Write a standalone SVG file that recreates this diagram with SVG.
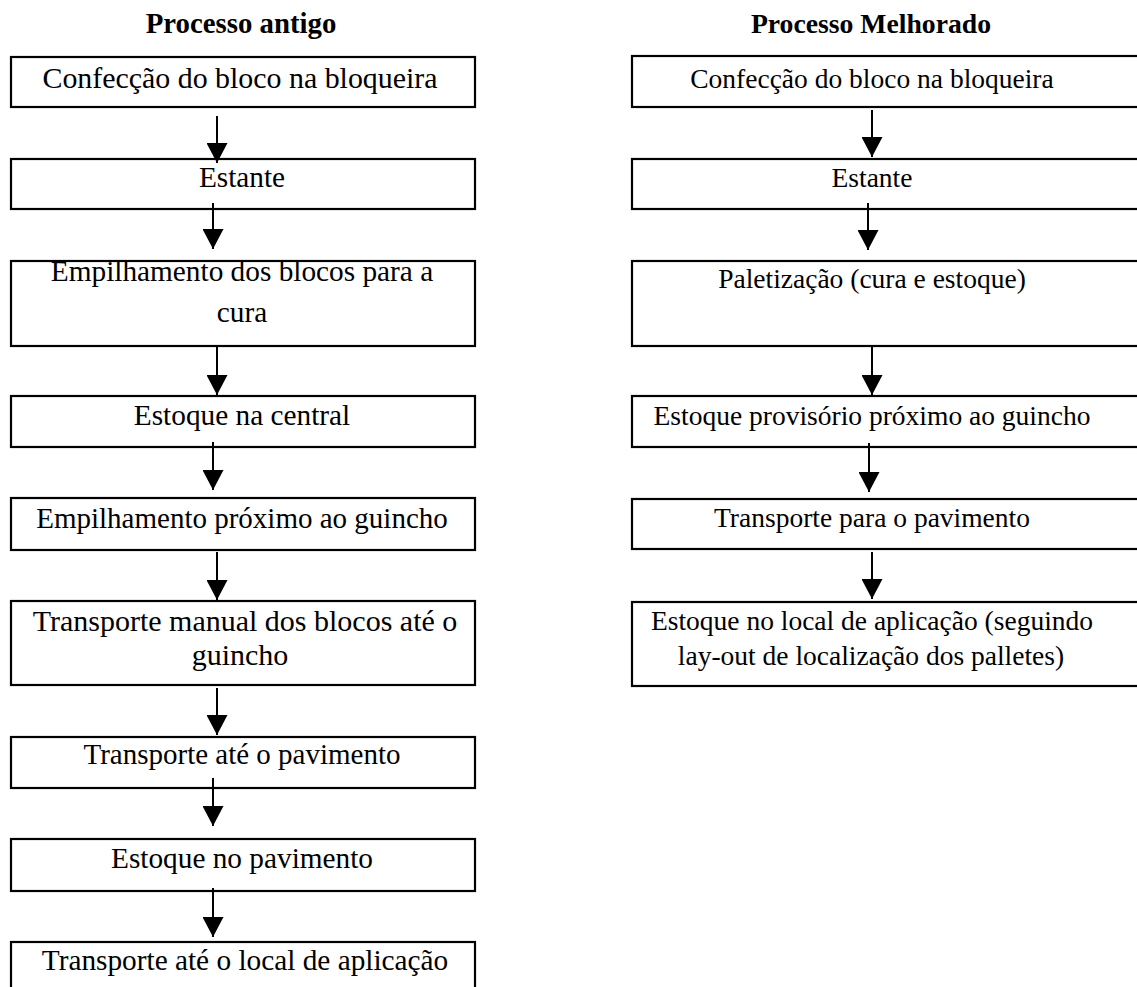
<svg xmlns="http://www.w3.org/2000/svg" width="1137" height="987" viewBox="0 0 1137 987">
  <style>
    .box { fill: #fff; stroke: #000; stroke-width: 2.2; }
    .t { font-family: "Liberation Serif", "Times New Roman", serif; font-size: 29.3px; fill: #000; text-anchor: middle; }
    .r { font-size: 27.5px; }
    .h { font-family: "Liberation Serif", "Times New Roman", serif; font-size: 28.8px; font-weight: bold; fill: #000; text-anchor: middle; }
    .c { stroke: #000; stroke-width: 2; fill: none; marker-end: url(#head); }
  </style>
  <defs>
    <marker id="head" viewBox="0 0 20 21" refX="20" refY="10.5" markerWidth="20" markerHeight="21" markerUnits="userSpaceOnUse" orient="auto">
      <path d="M0,0 L20,10.5 L0,21 Z" fill="#000"/>
    </marker>
  </defs>

  <rect width="1137" height="987" fill="#fff"/>

  <!-- column headings -->
  <text class="h" x="241" y="33">Processo antigo</text>
  <text class="h" x="871" y="33" style="font-size:27.7px">Processo Melhorado</text>

  <!-- old process -->
  <g id="a1"><rect class="box" x="11" y="57" width="464" height="50"/><text class="t" x="240" y="88" style="font-size:29.9px">Confecção do bloco na bloqueira</text></g>
  <g id="a2"><rect class="box" x="11" y="159" width="464" height="50"/><text class="t" x="242" y="187">Estante</text></g>
  <g id="a3"><rect class="box" x="11" y="261" width="464" height="85"/><text class="t" x="242" y="281">Empilhamento dos blocos para a</text><text class="t" x="242" y="322">cura</text></g>
  <g id="a4"><rect class="box" x="11" y="396" width="464" height="51"/><text class="t" x="242" y="425">Estoque na central</text></g>
  <g id="a5"><rect class="box" x="11" y="498" width="464" height="52"/><text class="t" x="242" y="528" style="font-size:29px">Empilhamento próximo ao guincho</text></g>
  <g id="a6"><rect class="box" x="11" y="601" width="464" height="84"/><text class="t" x="245" y="631" style="font-size:30px">Transporte manual dos blocos até o</text><text class="t" x="240" y="665" style="font-size:30px">guincho</text></g>
  <g id="a7"><rect class="box" x="11" y="737" width="464" height="51"/><text class="t" x="242" y="764" style="font-size:29px">Transporte até o pavimento</text></g>
  <g id="a8"><rect class="box" x="11" y="839" width="464" height="52"/><text class="t" x="242" y="868">Estoque no pavimento</text></g>
  <g id="a9"><rect class="box" x="11" y="942" width="464" height="60"/><text class="t" x="245" y="970">Transporte até o local de aplicação</text></g>

  <!-- improved process -->
  <g id="b1"><rect class="box" x="632" y="56" width="520" height="51"/><text class="t r" x="872" y="88">Confecção do bloco na bloqueira</text></g>
  <g id="b2"><rect class="box" x="632" y="159" width="520" height="50"/><text class="t r" x="872" y="187">Estante</text></g>
  <g id="b3"><rect class="box" x="632" y="261" width="520" height="85"/><text class="t r" x="872" y="288">Paletização (cura e estoque)</text></g>
  <g id="b4"><rect class="box" x="632" y="396" width="520" height="51"/><text class="t r" x="872" y="425">Estoque provisório próximo ao guincho</text></g>
  <g id="b5"><rect class="box" x="632" y="499" width="520" height="50"/><text class="t r" x="872" y="527">Transporte para o pavimento</text></g>
  <g id="b6"><rect class="box" x="632" y="602" width="520" height="84"/><text class="t r" x="872" y="630">Estoque no local de aplicação (seguindo</text><text class="t r" x="871" y="665">lay-out de localização dos palletes)</text></g>

  <!-- connectors -->
  <g id="connectors">
    <line class="c" x1="217" y1="116" x2="217" y2="163"/>
    <line class="c" x1="213" y1="203" x2="213" y2="249"/>
    <line class="c" x1="217" y1="347" x2="217" y2="395"/>
    <line class="c" x1="213" y1="442" x2="213" y2="490"/>
    <line class="c" x1="217" y1="552" x2="217" y2="600"/>
    <line class="c" x1="217" y1="688" x2="217" y2="735"/>
    <line class="c" x1="213" y1="778" x2="213" y2="826"/>
    <line class="c" x1="213" y1="888" x2="213" y2="937"/>

    <line class="c" x1="872" y1="110" x2="872" y2="157"/>
    <line class="c" x1="868" y1="203" x2="868" y2="250"/>
    <line class="c" x1="872" y1="347" x2="872" y2="395"/>
    <line class="c" x1="869" y1="443" x2="869" y2="492"/>
    <line class="c" x1="872" y1="552" x2="872" y2="599"/>
  </g>
</svg>
